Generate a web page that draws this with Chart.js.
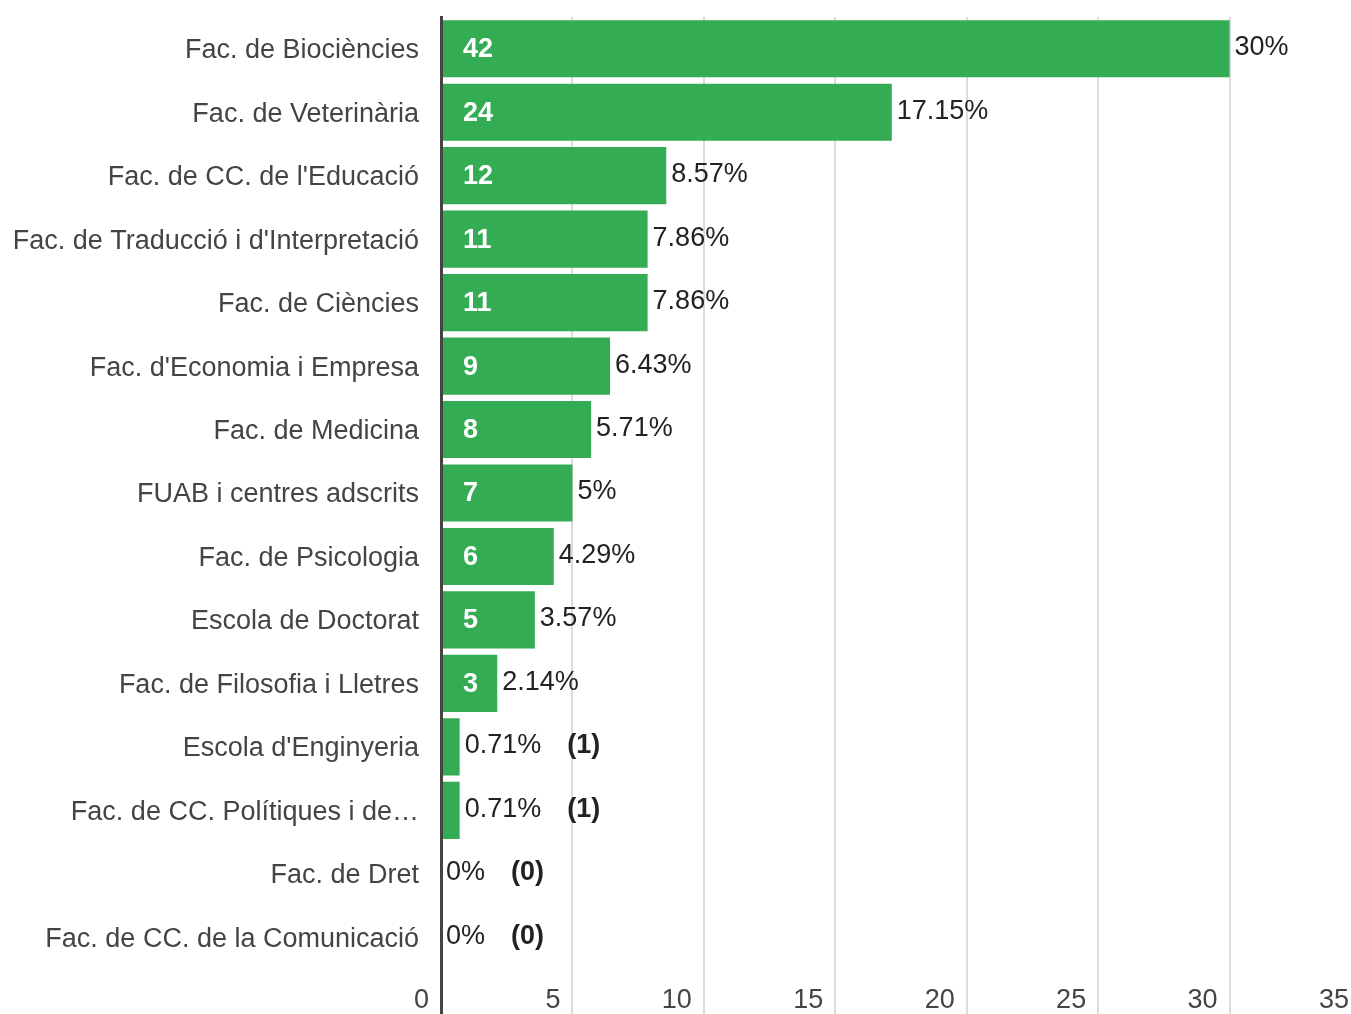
<!DOCTYPE html>
<html>
<head>
<meta charset="utf-8">
<script src="https://cdn.jsdelivr.net/npm/chart.js@4.4.1/dist/chart.umd.min.js"></script>
<style>
html,body{margin:0;padding:0;background:#fff;overflow:hidden;}
#wrap{width:1361px;height:1014px;position:relative;}
</style>
</head>
<body>
<div id="wrap"><canvas id="c"></canvas></div>
<script>
const categories = [
  "Fac. de Biociències",
  "Fac. de Veterinària",
  "Fac. de CC. de l'Educació",
  "Fac. de Traducció i d'Interpretació",
  "Fac. de Ciències",
  "Fac. d'Economia i Empresa",
  "Fac. de Medicina",
  "FUAB i centres adscrits",
  "Fac. de Psicologia",
  "Escola de Doctorat",
  "Fac. de Filosofia i Lletres",
  "Escola d'Enginyeria",
  "Fac. de CC. Polítiques i de…",
  "Fac. de Dret",
  "Fac. de CC. de la Comunicació"
];
const counts = [42, 24, 12, 11, 11, 9, 8, 7, 6, 5, 3, 1, 1, 0, 0];
const percents = [30, 17.15, 8.57, 7.86, 7.86, 6.43, 5.71, 5, 4.29, 3.57, 2.14, 0.71, 0.71, 0, 0];
const percentLabels = ["30%", "17.15%", "8.57%", "7.86%", "7.86%", "6.43%", "5.71%", "5%", "4.29%", "3.57%", "2.14%", "0.71%", "0.71%", "0%", "0%"];
const xTicks = [0, 5, 10, 15, 20, 25, 30, 35];

const FONT = '"Liberation Sans", Arial, sans-serif';

const labelPlugin = {
  id: 'barLabels',
  afterDatasetsDraw(chart) {
    const ctx = chart.ctx;
    const meta = chart.getDatasetMeta(0);
    ctx.save();
    ctx.textBaseline = 'middle';
    meta.data.forEach((bar, i) => {
      const base = chart.scales.x.getPixelForValue(0);
      const w = bar.x - base;
      ctx.font = 'bold 27px ' + FONT;
      const cText = String(counts[i]);
      const cw = ctx.measureText(cText).width;
      const inside = w > cw + 30;
      ctx.font = '27px ' + FONT;
      ctx.fillStyle = '#222';
      ctx.textAlign = 'left';
      const px = bar.x + 5;
      ctx.fillText(percentLabels[i], px, bar.y - 1);
      const pw = ctx.measureText(percentLabels[i]).width;
      ctx.font = 'bold 27px ' + FONT;
      if (inside) {
        ctx.fillStyle = '#fff';
        ctx.fillText(cText, base + 22, bar.y + 1);
      } else {
        ctx.fillStyle = '#222';
        ctx.fillText('(' + cText + ')', px + pw + 26, bar.y - 1);
      }
    });
    ctx.restore();
  },
  afterDraw(chart) {
    const ctx = chart.ctx;
    const xs = chart.scales.x;
    ctx.save();
    ctx.font = '27px ' + FONT;
    ctx.fillStyle = '#444';
    ctx.textAlign = 'right';
    ctx.textBaseline = 'middle';
    xTicks.forEach(t => {
      ctx.fillText(String(t), xs.getPixelForValue(t) - 12, 1001);
    });
    ctx.restore();
  }
};

new Chart(document.getElementById('c'), {
  type: 'bar',
  data: {
    labels: categories,
    datasets: [{
      data: percents,
      backgroundColor: '#34ac53',
      borderWidth: 0,
      categoryPercentage: 1,
      barPercentage: 0.9
    }]
  },
  options: {
    indexAxis: 'y',
    responsive: true,
    maintainAspectRatio: false,
    animation: false,
    layout: { padding: { top: 17, right: 0, left: 0, bottom: 0 } },
    plugins: { legend: { display: false }, tooltip: { enabled: false } },
    scales: {
      x: {
        min: 0, max: 35,
        afterBuildTicks: (s) => { s.ticks = xTicks.map(v => ({ value: v })); },
        afterFit: (s) => { s.paddingLeft = 0; s.paddingRight = 0; },
        ticks: { display: false },
        border: { display: false },
        grid: {
          color: (c) => (c.tick && c.tick.value === 0) ? '#444' : '#dcdcdc',
          lineWidth: (c) => (c.tick && c.tick.value === 0) ? 3 : 2,
          drawTicks: true,
          tickLength: 45
        }
      },
      y: {
        afterFit: (s) => { s.width = 441; s.paddingTop = 0; s.paddingBottom = 0; },
        grid: { display: false, drawTicks: false },
        border: { display: true, color: '#444', width: 3, z: 1 },
        ticks: {
          padding: 22,
          labelOffset: 2,
          color: '#444',
          font: { family: FONT, size: 27 }
        }
      }
    }
  },
  plugins: [labelPlugin]
});
</script>
</body>
</html>
